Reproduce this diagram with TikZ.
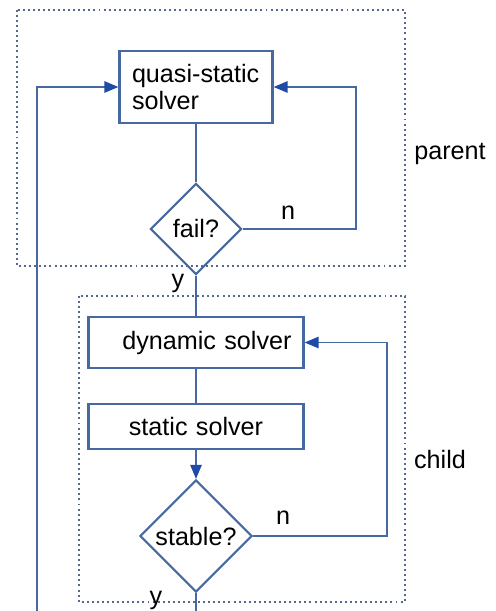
\documentclass[tikz,border=0pt]{standalone}
\usepackage{fontspec}
\setmainfont{Liberation Sans}
\usetikzlibrary{shapes.geometric, arrows.meta}

\definecolor{lineblue}{RGB}{70,105,160}
\definecolor{tipblue}{RGB}{30,75,165}
\definecolor{frameblue}{RGB}{85,105,140}

\begin{document}
\begin{tikzpicture}[font=\fontsize{17.9}{19.5}\selectfont]

\tikzset{solverbox/.style={draw=lineblue, line width=1.5pt, rectangle, minimum width=5.375cm, inner xsep=0.3cm}}
\tikzset{decision/.style={draw=lineblue, line width=1.5pt, diamond, aspect=1, inner sep=0pt}}
\tikzset{groupframe/.style={draw=frameblue, line width=1.8pt, dash pattern=on 1.4pt off 2.2pt}}
\tikzset{flow/.style={draw=lineblue, line width=1.4pt}}
\tikzset{flowarrow/.style={flow, -{Triangle[length=10pt, width=8pt, color=tipblue]}}}

\useasboundingbox (0,0) rectangle (12.375,-15.275);

% parent and child groups
\draw[groupframe] (0.425,-0.25) rectangle (10.125,-6.65);
\draw[groupframe] (1.975,-7.4) rectangle (10.125,-15.05);
\node at (11.25,-3.85) (parent) {parent};
\node at (11.0,-11.5) (child) {child};

% solvers and decisions
\node[solverbox, minimum width=3.825cm, minimum height=1.8cm, text width=3.2cm, inner xsep=0.3125cm, align=left] at (4.9,-2.175) (qs) {quasi-static\\solver};
\node[decision, minimum size=2.275cm] at (4.9,-5.725) (fail) {fail?};
\node[solverbox, minimum height=1.275cm, text width=4.775cm, align=right] at (4.9,-8.5625) (dyn) {dynamic solver};
\node[solverbox, minimum height=1.125cm, text width=4.775cm, align=center] at (4.9,-10.6625) (static) {static solver};
\node[decision, minimum size=2.8cm] at (4.9,-13.4) (stable) {stable?};

% free ends at the bottom
\coordinate (back) at (0.925,-15.275);
\coordinate (out) at (4.9,-15.275);

% flow
\draw[flow] (qs) -- (fail);
\draw[flowarrow] (fail.east) -- ++(2.825,0) |- (qs.east);
\draw[flow] (fail) -- (dyn);
\draw[flow] (dyn) -- (static);
\draw[flowarrow] (static) -- (stable);
\draw[flowarrow] (stable.east) -- ++(3.35,0) |- (dyn.east);
\draw[flow] (stable) -- (out);
\draw[flowarrow] (back) |- (qs.west);

% branch labels
\node at (7.2,-5.325) (failno) {n};
\node at (4.45,-7.075) (failyes) {y};
\node at (7.075,-12.95) (stableno) {n};
\node at (3.9,-15.0) (stableyes) {y};

\end{tikzpicture}
\end{document}
